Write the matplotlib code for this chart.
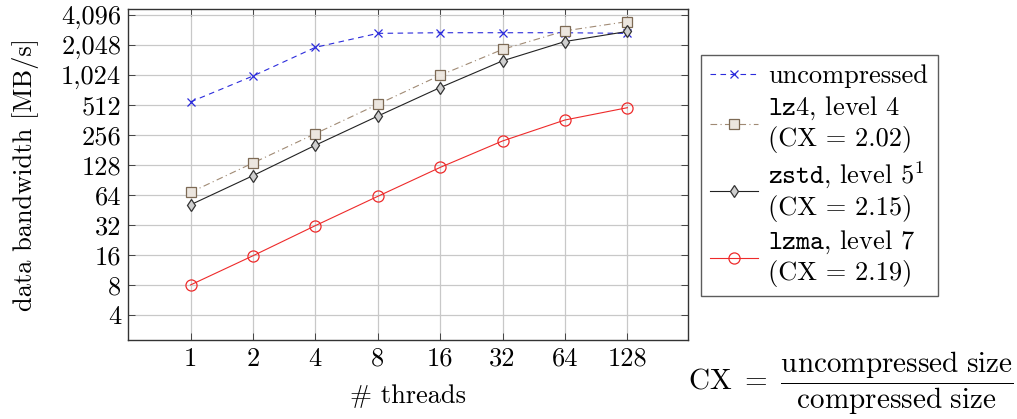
import matplotlib
matplotlib.use("Agg")
import matplotlib.pyplot as plt

plt.rcParams["font.family"] = "cmr10"
plt.rcParams["mathtext.fontset"] = "cm"
plt.rcParams["axes.formatter.use_mathtext"] = True

threads = [1, 2, 4, 8, 16, 32, 64, 128]
thread_labels = ["1", "2", "4", "8", "16", "32", "64", "128"]
y_ticks = [4, 8, 16, 32, 64, 128, 256, 512, 1024, 2048, 4096]
y_labels = ["4", "8", "16", "32", "64", "128", "256", "512", "1,024", "2,048", "4,096"]

uncompressed = [550, 1000, 1940, 2680, 2720, 2720, 2720, 2680]
lz4 = [68, 134, 264, 520, 1017, 1850, 2840, 3520]
zstd = [51, 100, 202, 396, 766, 1420, 2220, 2800]
lzma = [8, 15.7, 31.5, 62, 121, 223, 362, 481]

FS = 19

fig = plt.figure(figsize=(10.17, 4.19), dpi=100)
ax = fig.add_axes([0.126, 0.1885, 0.5505, 0.79])

ax.plot(threads, uncompressed, color="#2b2bdc", ls=(0, (5, 4)), lw=0.8,
        marker="x", ms=6, mew=0.9, label="uncompressed")
ax.plot(threads, lz4, color="#a08a74", ls=(0, (6, 3, 1, 3)), lw=0.8,
        marker="s", ms=7.5, mfc="#ece6df", mec="#7d6a55", mew=0.9,
        label="$\\mathtt{lz4}$, level 4\n(CX = 2.02)")
ax.plot(threads, zstd, color="#222222", ls="-", lw=0.8,
        marker="d", ms=6, mfc="#cfcfcf", mec="#333333", mew=0.9,
        label="$\\mathtt{zstd}$, level 5$^1$\n(CX = 2.15)")
ax.plot(threads, lzma, color="#ee2a2a", ls="-", lw=0.8,
        marker="o", ms=8, mfc="none", mec="#ee2a2a", mew=0.9,
        label="$\\mathtt{lzma}$, level 7\n(CX = 2.19)")

ax.set_xscale("log", base=2)
ax.set_yscale("log", base=2)
ax.set_xlim(0.5, 251)
ax.set_ylim(2.24, 4706)
ax.set_xticks(threads, thread_labels)
ax.set_yticks(y_ticks, y_labels)
ax.minorticks_off()
ax.tick_params(direction="in", top=True, right=True, labelsize=FS, length=5,
               width=0.7, color="#444444", pad=5)
ax.grid(True, color="#c8c8c8", lw=0.9)
ax.set_axisbelow(True)
for s in ax.spines.values():
    s.set_color("#333333")
    s.set_linewidth(1.0)

ax.set_xlabel("# threads", fontsize=FS, labelpad=10)
ax.set_ylabel("data bandwidth [MB/s]", fontsize=FS, labelpad=16)

leg = fig.legend(loc="upper left", bbox_to_anchor=(701 / 1017, 1 - 55 / 419),
                 fontsize=FS, fancybox=False, edgecolor="#333333",
                 handlelength=1.8, labelspacing=0.25, borderaxespad=0,
                 borderpad=0.35, handletextpad=0.4)
leg.get_frame().set_linewidth(1.0)

fig.text(0.997, 0.085,
         r"$\mathrm{CX}\ =\ \dfrac{\mathrm{uncompressed\ size}}{\mathrm{compressed\ size}}$",
         fontsize=21, ha="right", va="center")

fig.savefig("out.png", dpi=100)
